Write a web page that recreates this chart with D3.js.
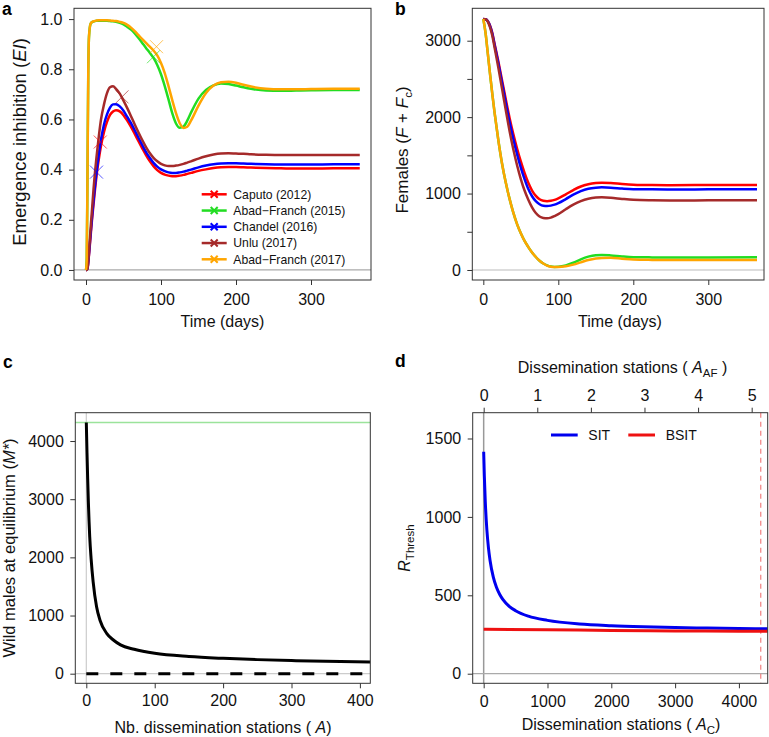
<!DOCTYPE html>
<html><head><meta charset="utf-8">
<script src="https://cdn.jsdelivr.net/npm/d3@7"></script>
<style>body{margin:0;background:#fff}</style>
</head><body>
<svg id="chart" width="769" height="737"></svg>
<script>
// ---------------- DATA ----------------
// Panel a: emergence inhibition over time
const tGridA = [0,1,2,3,4,6,8,10,12,14,17,20,24,28,32,36,40,45,50,55,60,65,70,75,80,85,90,95,100,105,110,115,120,125,130,135,140,150,160,170,180,190,200,210,220,240,260,280,300,330,365];
const eiCaputo2012 = [0,0,0.005,0.03,0.06,0.13,0.2,0.26,0.32,0.375,0.44,0.495,0.55,0.59,0.618,0.632,0.637,0.632,0.617,0.595,0.57,0.542,0.513,0.485,0.458,0.434,0.414,0.398,0.387,0.38,0.376,0.374,0.374,0.376,0.379,0.383,0.387,0.395,0.401,0.406,0.409,0.41,0.41,0.409,0.408,0.406,0.405,0.404,0.404,0.405,0.405];
const eiAbad2015 = [0,0.05,0.4,0.78,0.93,0.98,0.988,0.99,0.992,0.993,0.993,0.993,0.993,0.993,0.992,0.991,0.989,0.985,0.979,0.969,0.958,0.943,0.925,0.905,0.885,0.866,0.845,0.817,0.78,0.733,0.68,0.625,0.584,0.567,0.572,0.595,0.627,0.683,0.718,0.736,0.743,0.741,0.735,0.728,0.722,0.715,0.714,0.715,0.716,0.717,0.717];
const eiChandel2016 = [0,0,0.005,0.03,0.065,0.14,0.21,0.275,0.335,0.39,0.46,0.52,0.58,0.62,0.647,0.66,0.661,0.652,0.635,0.61,0.585,0.557,0.527,0.498,0.47,0.447,0.427,0.412,0.401,0.394,0.389,0.387,0.387,0.389,0.392,0.396,0.4,0.409,0.416,0.421,0.424,0.425,0.425,0.424,0.423,0.421,0.42,0.42,0.42,0.421,0.421];
const eiUnlu2017 = [0,0,0.006,0.035,0.075,0.16,0.24,0.32,0.39,0.45,0.53,0.6,0.66,0.705,0.728,0.732,0.722,0.703,0.675,0.645,0.613,0.58,0.548,0.518,0.49,0.466,0.447,0.433,0.423,0.417,0.414,0.414,0.416,0.419,0.423,0.428,0.433,0.444,0.453,0.46,0.464,0.465,0.464,0.463,0.461,0.459,0.458,0.458,0.458,0.458,0.458];
const eiAbad2017 = [0,0.04,0.38,0.77,0.93,0.98,0.988,0.991,0.993,0.994,0.995,0.995,0.995,0.995,0.994,0.993,0.992,0.989,0.985,0.977,0.966,0.952,0.936,0.92,0.905,0.89,0.875,0.855,0.825,0.785,0.733,0.677,0.625,0.585,0.566,0.571,0.595,0.655,0.705,0.735,0.748,0.75,0.746,0.738,0.731,0.722,0.72,0.72,0.721,0.722,0.722];
const seriesNames = ["Caputo (2012)","Abad\u2212Franch (2015)","Chandel (2016)","Unlu (2017)","Abad\u2212Franch (2017)"];
const markerTime = [19, 90, 14, 48, 94];
const markerEI = [0.51, 0.85, 0.39, 0.69, 0.89];

// Panel b: females over time
const tGridB = [0,3,6,9,12,15,20,25,30,35,40,45,50,55,60,65,70,75,80,85,90,95,100,110,120,130,140,150,158,170,185,200,225,250,300,365];
const femCaputo2012 = [3284,3280,3255,3195,3100,2960,2730,2480,2230,1990,1780,1590,1420,1270,1140,1040,970,925,905,900,905,918,938,990,1045,1092,1122,1138,1142,1137,1125,1116,1111,1110,1111,1112];
const femAbad2015 = [3284,3100,2830,2560,2300,2060,1700,1390,1140,930,750,600,480,380,300,230,170,120,85,60,45,40,42,60,95,140,175,193,196,190,177,168,165,164,165,166];
const femChandel2016 = [3284,3280,3255,3190,3090,2945,2705,2445,2185,1935,1715,1515,1340,1190,1060,965,900,860,840,837,842,855,875,928,985,1032,1063,1077,1081,1077,1066,1058,1055,1054,1055,1056];
const femUnlu2017 = [3284,3280,3250,3175,3065,2910,2650,2370,2090,1820,1580,1370,1190,1040,920,820,745,700,680,676,685,705,730,795,855,902,933,948,951,945,930,918,912,910,911,912];
const femAbad2017 = [3284,3100,2830,2560,2300,2060,1700,1390,1140,930,750,600,480,380,300,230,170,120,85,58,43,38,38,48,70,100,130,150,158,160,148,137,132,130,130,131];

// Panel c: wild males at equilibrium vs stations
const stationsA = [0,1,2,3,4,5,7,10,15,20,30,40,50,70,100,150,200,250,300,350,415];
const malesEq = [4320,3800,3350,2950,2620,2350,1980,1580,1150,920,690,575,495,420,350,295,264,242,225,212,202];
const malesNoControl = 4320;

// Panel d: R threshold vs stations
const stationsAC = [0,10,25,50,75,100,150,200,250,300,400,500,700,1000,1500,2000,2500,3000,3500,4000,4450];
const rThreshSIT = [1416,1263,1098,918,802,722,617,551,507,474,430,402,367,340,317,306,299,294,291,288,286];
const stationsACb = [0,1000,2000,3000,4000,4450];
const rThreshBSIT = [283,280,276,273,271,270];
const acPerAF = 840;
const thresholdAC = 4342;
const legendD = ["SIT","BSIT"];

// Ticks
const ticksTime = [0,100,200,300];
const ticksEI = [0,0.2,0.4,0.6,0.8,1.0];
const ticksFem = [0,500,1000,1500,2000,2500,3000];
const ticksFemLabeled = [0,1000,2000,3000];
const ticksA = [0,100,200,300,400];
const ticksM = [0,1000,2000,3000,4000];
const ticksAC = [0,1000,2000,3000,4000];
const ticksAF = [0,1,2,3,4,5];
const ticksR = [0,500,1000,1500];

// ---------------- STYLE ----------------
const FONT = "'Liberation Sans', Arial, Helvetica, sans-serif";
const colorsA = ["#ff0000","#22dd22","#0000ff","#a52a2a","#ffa500"];
const svg = d3.select('#chart').style('font-family', FONT);

function frame(o){
  const g = svg.append('g');
  const x = d3.scaleLinear().domain(o.xd).range([o.L,o.R]);
  const y = d3.scaleLinear().domain(o.yd).range([o.B,o.T]);
  return {g,x,y,o};
}
function box(p){
  p.g.append('rect').attr('x',p.o.L).attr('y',p.o.T).attr('width',p.o.R-p.o.L).attr('height',p.o.B-p.o.T)
    .attr('fill','none').attr('stroke','#333').attr('stroke-width',1);
}
function styleAxis(sel){
  sel.select('.domain').remove();
  sel.selectAll('.tick line').attr('stroke','#333');
  sel.selectAll('.tick text').attr('fill','#111').style('font-size','16px').style('font-family',FONT);
}
function xAxisBottom(p, ticks, pad, fmt){
  const ax = d3.axisBottom(p.x).tickValues(ticks).tickSize(5).tickPadding(pad).tickFormat(fmt||d3.format('d'));
  p.g.append('g').attr('transform',`translate(0,${p.o.B})`).call(ax).call(styleAxis);
}
function yAxisLeft(p, ticks, fmt){
  const ax = d3.axisLeft(p.y).tickValues(ticks).tickSize(5).tickPadding(6.5).tickFormat(fmt||d3.format('d'));
  p.g.append('g').attr('transform',`translate(${p.o.L},0)`).call(ax).call(styleAxis);
}
function rich(g, x, y, parts, opts){
  opts = opts||{};
  const t = g.append('text').attr('x',x).attr('y',y).attr('text-anchor','middle')
    .style('font-size',(opts.size||16)+'px').attr('fill','#111');
  if(opts.rotate) t.attr('transform',`rotate(-90,${x},${y})`);
  let shift = 0;
  parts.forEach(pt=>{
    const s = t.append('tspan').text(pt.t);
    if(pt.i) s.style('font-style','italic');
    if(pt.sub){ s.style('font-size',(opts.subSize||11.5)+'px').attr('dy',4); shift=4; }
    else if(shift){ s.attr('dy',-shift); shift=0; }
  });
  return t;
}
function panelLabel(x,y,txt){
  svg.append('text').attr('x',x).attr('y',y).text(txt).style('font-size','17.5px').style('font-weight','bold').attr('fill','#000');
}

// ---------------- PANEL A ----------------
{
  const p = frame({L:74,R:371,T:8.3,B:280,xd:[-16,380],yd:[-0.04,1.043]});
  p.g.append('line').attr('x1',p.o.L).attr('x2',p.o.R).attr('y1',p.y(0)).attr('y2',p.y(0)).attr('stroke','#aaa').attr('stroke-width',1.2);
  const series = [eiCaputo2012, eiAbad2015, eiChandel2016, eiUnlu2017, eiAbad2017];
  const line = d3.line().x((d,i)=>p.x(tGridA[i])).y(d=>p.y(d)).curve(d3.curveMonotoneX);
  series.forEach((s,k)=>{
    p.g.append('path').attr('d',line(s)).attr('fill','none').attr('stroke',colorsA[k]).attr('stroke-width',2.5).attr('stroke-linejoin','round');
  });
  markerTime.forEach((t,k)=>{
    const cx=p.x(t), cy=p.y(markerEI[k]), r=6.5;
    p.g.append('path').attr('d',`M${cx-r},${cy-r}L${cx+r},${cy+r}M${cx-r},${cy+r}L${cx+r},${cy-r}`)
      .attr('stroke',colorsA[k]).attr('stroke-width',1).attr('opacity',0.65).attr('fill','none');
  });
  box(p);
  xAxisBottom(p, ticksTime, 8.3);
  yAxisLeft(p, ticksEI, d3.format('.1f'));
  rich(p.g, 222.5, 326.5, [{t:'Time (days)'}]);
  rich(p.g, 26, 142, [{t:'Emergence inhibition ('},{t:'EI',i:true},{t:')'}], {rotate:true, size:18.5});
  // legend
  seriesNames.forEach((n,k)=>{
    const yy = 194.3 + k*16.25;
    p.g.append('line').attr('x1',201.7).attr('x2',226.7).attr('y1',yy).attr('y2',yy).attr('stroke',colorsA[k]).attr('stroke-width',2.5);
    const r=3.5, cx=214.2;
    p.g.append('path').attr('d',`M${cx-r},${yy-r}L${cx+r},${yy+r}M${cx-r},${yy+r}L${cx+r},${yy-r}`).attr('stroke',colorsA[k]).attr('stroke-width',2);
    p.g.append('text').attr('x',233.3).attr('y',yy).attr('dy','0.35em').text(n).style('font-size','12.2px').attr('fill','#111');
  });
  panelLabel(2,15,'a');
}

// ---------------- PANEL B ----------------
{
  const p = frame({L:472.3,R:764,T:8.3,B:280,xd:[-14.7,374.3],yd:[-131,3424]});
  p.g.append('line').attr('x1',p.o.L).attr('x2',p.o.R).attr('y1',p.y(0)).attr('y2',p.y(0)).attr('stroke','#bbb').attr('stroke-width',1.2);
  const series = [femCaputo2012, femAbad2015, femChandel2016, femUnlu2017, femAbad2017];
  const line = d3.line().x((d,i)=>p.x(tGridB[i])).y(d=>p.y(d)).curve(d3.curveMonotoneX);
  series.forEach((s,k)=>{
    p.g.append('path').attr('d',line(s)).attr('fill','none').attr('stroke',colorsA[k]).attr('stroke-width',2.5).attr('stroke-linejoin','round');
  });
  box(p);
  xAxisBottom(p, ticksTime, 8.3);
  yAxisLeft(p, ticksFem, d=> ticksFemLabeled.includes(d) ? d3.format('d')(d) : '');
  rich(p.g, 620, 326.5, [{t:'Time (days)'}]);
  rich(p.g, 408, 150, [{t:'Females ('},{t:'F',i:true},{t:' + '},{t:'F',i:true},{t:'c',sub:true},{t:')'}], {rotate:true, size:17});
  panelLabel(395,15,'b');
}

// ---------------- PANEL C ----------------
{
  const p = frame({L:75.3,R:370.3,T:412.7,B:683.3,xd:[-16.1,415.2],yd:[-165,4487]});
  p.g.append('line').attr('x1',p.x(0)).attr('x2',p.x(0)).attr('y1',p.o.T).attr('y2',p.o.B).attr('stroke','#ccc').attr('stroke-width',1.2);
  p.g.append('line').attr('x1',p.o.L).attr('x2',p.o.R).attr('y1',p.y(0)).attr('y2',p.y(0)).attr('stroke','#ccc').attr('stroke-width',1.2);
  p.g.append('line').attr('x1',p.o.L).attr('x2',p.o.R).attr('y1',p.y(malesNoControl)).attr('y2',p.y(malesNoControl)).attr('stroke','#9be39b').attr('stroke-width',1.5);
  p.g.append('line').attr('x1',p.x(0)).attr('x2',p.o.R).attr('y1',p.y(0)).attr('y2',p.y(0)).attr('stroke','#000').attr('stroke-width',3).attr('stroke-dasharray','12,12');
  const line = d3.line().x((d,i)=>p.x(stationsA[i])).y(d=>p.y(d)).curve(d3.curveMonotoneX);
  p.g.append('path').attr('d',line(malesEq)).attr('fill','none').attr('stroke','#000').attr('stroke-width',3);
  box(p);
  xAxisBottom(p, ticksA, 6);
  yAxisLeft(p, ticksM);
  rich(p.g, 223, 733, [{t:'Nb. dissemination stations ( '},{t:'A',i:true},{t:')'}]);
  rich(p.g, 15, 548, [{t:'Wild males at equilibrium ('},{t:'M*',i:true},{t:')'}], {rotate:true, size:16.5});
  panelLabel(3,368,'c');
}

// ---------------- PANEL D ----------------
{
  const p = frame({L:472.7,R:767.7,T:412.7,B:683.3,xd:[-172,4451],yd:[-61.2,1664.5]});
  p.g.append('line').attr('x1',p.x(0)).attr('x2',p.x(0)).attr('y1',p.o.T).attr('y2',p.o.B).attr('stroke','#999').attr('stroke-width',1.5);
  p.g.append('line').attr('x1',p.o.L).attr('x2',p.o.R).attr('y1',p.y(0)).attr('y2',p.y(0)).attr('stroke','#aaa').attr('stroke-width',1.2);
  p.g.append('line').attr('x1',p.x(thresholdAC)).attr('x2',p.x(thresholdAC)).attr('y1',p.o.T).attr('y2',p.o.B).attr('stroke','#f08080').attr('stroke-width',1.2).attr('stroke-dasharray','5,4');
  const lineS = d3.line().x((d,i)=>p.x(stationsAC[i])).y(d=>p.y(d)).curve(d3.curveMonotoneX);
  const lineB = d3.line().x((d,i)=>p.x(stationsACb[i])).y(d=>p.y(d)).curve(d3.curveMonotoneX);
  p.g.append('path').attr('d',lineS(rThreshSIT)).attr('fill','none').attr('stroke','#0000ee').attr('stroke-width',3);
  p.g.append('path').attr('d',lineB(rThreshBSIT)).attr('fill','none').attr('stroke','#ee1111').attr('stroke-width',3);
  box(p);
  xAxisBottom(p, ticksAC, 7.7);
  const xTop = d3.scaleLinear().domain(p.x.domain().map(v=>v/acPerAF)).range(p.x.range());
  const axT = d3.axisTop(xTop).tickValues(ticksAF).tickSize(5).tickPadding(6.7).tickFormat(d3.format('d'));
  p.g.append('g').attr('transform',`translate(0,${p.o.T})`).call(axT).call(styleAxis);
  yAxisLeft(p, ticksR);
  rich(p.g, 621, 730, [{t:'Dissemination stations ( '},{t:'A',i:true},{t:'C',sub:true},{t:')'}]);
  rich(p.g, 622.5, 373.3, [{t:'Dissemination stations ( '},{t:'A',i:true},{t:'AF',sub:true},{t:' )'}]);
  rich(p.g, 410, 548, [{t:'R',i:true},{t:'Thresh',sub:true}], {rotate:true});
  // legend
  const legX = [[551,577.7,588.3],[628.3,655,665.7]];
  const legC = ['#0000ee','#ee1111'];
  legendD.forEach((n,k)=>{
    p.g.append('line').attr('x1',legX[k][0]).attr('x2',legX[k][1]).attr('y1',435).attr('y2',435).attr('stroke',legC[k]).attr('stroke-width',3);
    p.g.append('text').attr('x',legX[k][2]).attr('y',435).attr('dy','0.35em').text(n).style('font-size','14px').attr('fill','#111');
  });
  panelLabel(395,367,'d');
}
</script>
</body></html>
